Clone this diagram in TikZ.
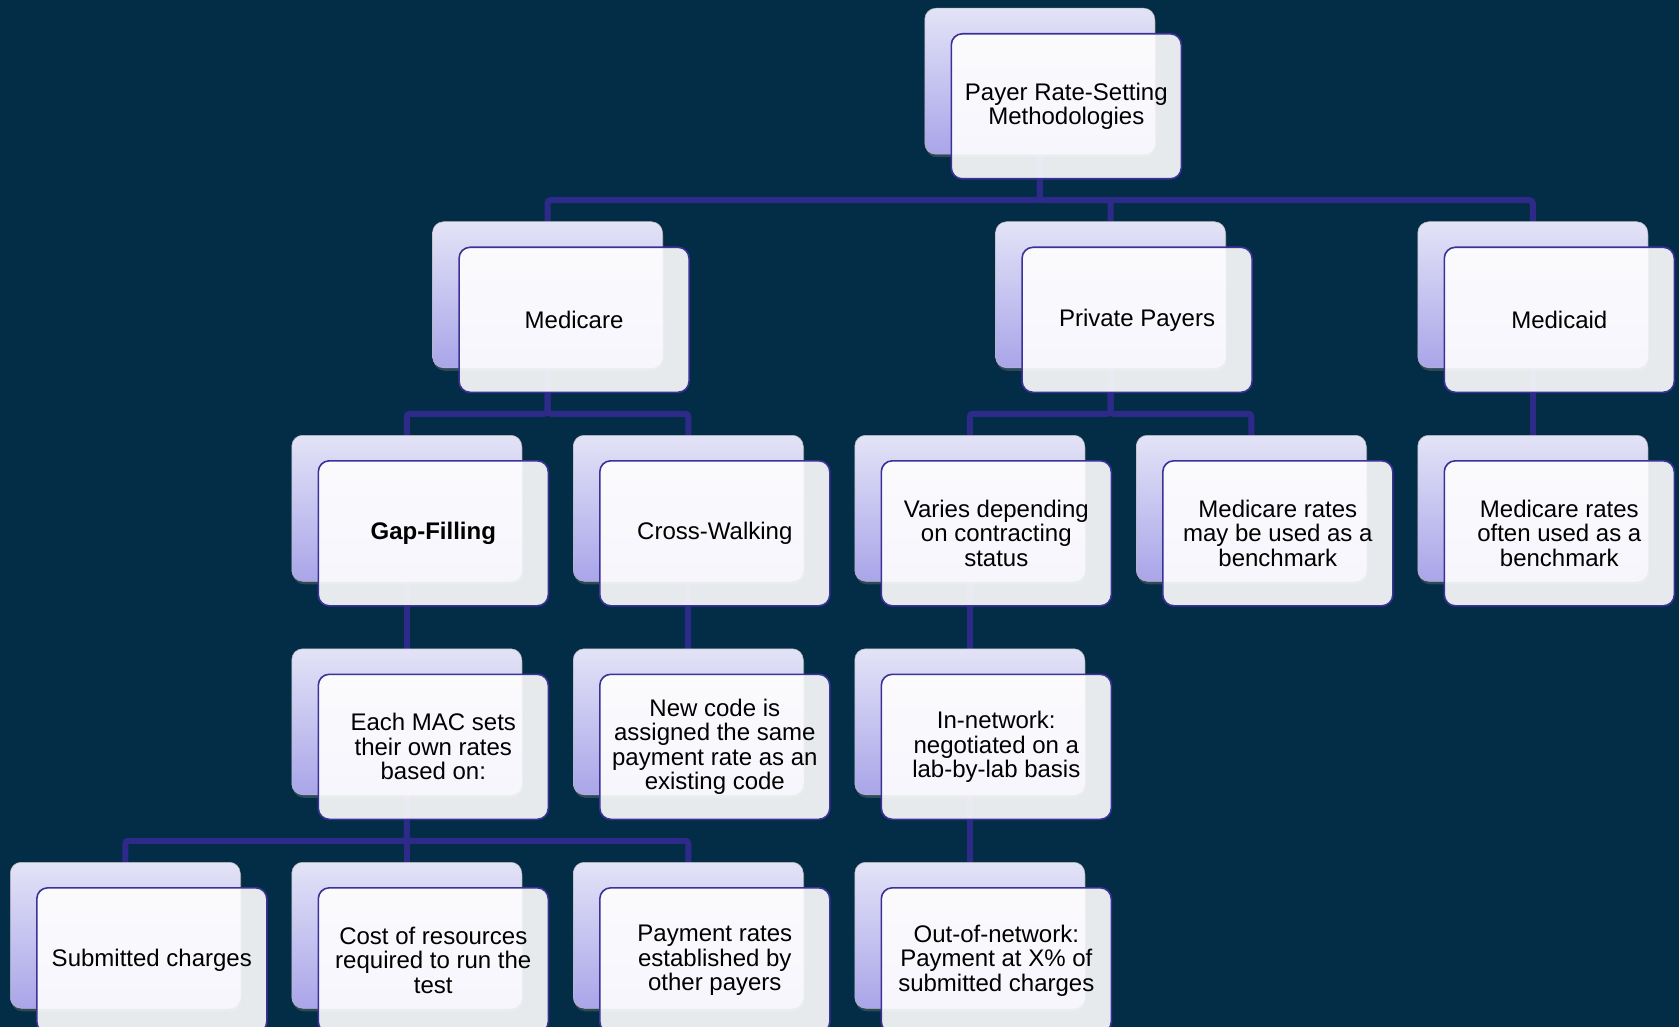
\documentclass[tikz,border=0pt]{standalone}
\usepackage{fontspec}
\setmainfont{Liberation Sans}
\usetikzlibrary{shadows,calc}
\definecolor{bgc}{HTML}{032D46}
\definecolor{conc}{HTML}{2E2A8A}
\definecolor{frameb}{HTML}{3B3199}
\definecolor{backtop}{HTML}{E3E3F7}
\definecolor{backbot}{HTML}{A9A5E9}
\pgfdeclarelayer{bglayer}
\pgfdeclarelayer{linelayer}
\pgfsetlayers{bglayer,linelayer,main}
\tikzset{
 backbox/.style={anchor=north west, minimum width=230pt, minimum height=146pt, inner sep=0pt,
   rounded corners=11pt, top color=backtop, bottom color=backbot, draw=gray!55, line width=0.5pt,
   drop shadow={shadow xshift=1pt, shadow yshift=-3pt, opacity=0.35}},
 frontbox/.style={anchor=north west, minimum width=230pt, minimum height=145pt, inner sep=2pt,
   rounded corners=11pt, fill=white, fill opacity=0.9, text opacity=1, draw=frameb, line width=1.6pt,
   align=center, font=\fontsize{24}{24.5}\selectfont, text=black},
 conn/.style={draw=conc, line width=6pt, rounded corners=3pt},
}
\newcommand\pbox[4]{%
  \node[backbox] (#1b) at (#2,#3) {};
  \node[frontbox] (#1) at (#2+26,#3+25) {#4};}
\newcommand\pconn[2]{\draw[conn] (#1b.south) -- ++(0,45.75) -| (#2b.north);}
\begin{document}
\begin{tikzpicture}[x=1pt,y=-1pt]
\useasboundingbox (0,0) rectangle (1679,1027);
\begin{pgfonlayer}{bglayer}
\fill[bgc] (0,0) rectangle (1679,1027);
\end{pgfonlayer}
\clip (0,0) rectangle (1679,1027);
% row 1
\pbox{top}{924.5}{8}{Payer Rate-Setting\\Methodologies}
% row 2
\pbox{medicare}{432.25}{221.5}{Medicare}
\pbox{private}{995.25}{221.5}{Private Payers}
\pbox{medicaid}{1417.5}{221.5}{Medicaid}
% row 3
\pbox{gap}{291.5}{435}{\textbf{Gap-Filling}}
\pbox{cross}{573}{435}{Cross-Walking}
\pbox{varies}{854.5}{435}{Varies depending\\on contracting\\status}
\pbox{maybe}{1136}{435}{Medicare rates\\may be used as a\\benchmark}
\pbox{often}{1417.5}{435}{Medicare rates\\often used as a\\benchmark}
% row 4
\pbox{mac}{291.5}{648.5}{Each MAC sets\\their own rates\\based on:}
\pbox{newcode}{573}{648.5}{New code is\\assigned the same\\payment rate as an\\existing code}
\pbox{innet}{854.5}{648.5}{In-network:\\negotiated on a\\lab-by-lab basis}
% row 5
\pbox{submitted}{10}{862}{Submitted charges}
\pbox{cost}{291.5}{862}{Cost of resources\\required to run the\\test}
\pbox{other}{573}{862}{Payment rates\\established by\\other payers}
\pbox{outnet}{854.5}{862}{Out-of-network:\\Payment at X\% of\\submitted charges}
\begin{pgfonlayer}{linelayer}
\pconn{top}{medicare}
\pconn{top}{private}
\pconn{top}{medicaid}
\pconn{medicare}{gap}
\pconn{medicare}{cross}
\pconn{private}{varies}
\pconn{private}{maybe}
\pconn{medicaid}{often}
\pconn{gap}{mac}
\pconn{cross}{newcode}
\pconn{varies}{innet}
\pconn{mac}{submitted}
\pconn{mac}{cost}
\pconn{mac}{other}
\pconn{innet}{outnet}
\end{pgfonlayer}
\end{tikzpicture}
\end{document}
